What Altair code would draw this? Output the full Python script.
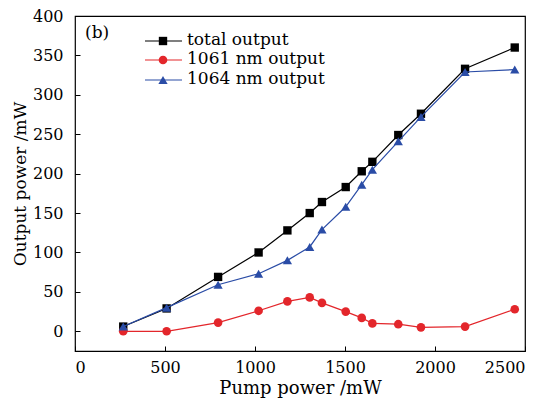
import altair as alt
import pandas as pd

pump = [268, 509, 795, 1020, 1180, 1304, 1372, 1504, 1593, 1652, 1796, 1922, 2167, 2443]
total = [6, 29, 69, 100, 128, 150, 164, 183, 203, 215, 249, 276, 333, 360]
out1061 = [0, 0, 11, 26, 38, 43, 36, 25, 17, 10, 9, 5, 6, 28]
out1064 = [6, 30, 59, 73, 90, 107, 129, 158, 186, 205, 241, 272, 329, 332]

series_names = ["total output", "1061 nm output", "1064 nm output"]
series_colors = ["#000000", "#e3262b", "#2a4ca6"]
series_shapes = ["square", "circle", "triangle-up"]
series_sizes = [70, 75, 85]
x_ticks = [0, 500, 1000, 1500, 2000, 2500]
y_ticks = [0, 50, 100, 150, 200, 250, 300, 350, 400]

FONT = "DejaVu Serif"

rows = []
for name, vals in zip(series_names, [total, out1061, out1064]):
    for p, v in zip(pump, vals):
        rows.append({"pump": p, "power": v, "series": name})
df = pd.DataFrame(rows)

xscale = alt.Scale(domain=[0, 2500], nice=False)
yscale = alt.Scale(domain=[-25, 400], nice=False)

x_enc = alt.X("pump:Q", scale=xscale, axis=alt.Axis(
    title="Pump power /mW", values=x_ticks, format="d", grid=False, domain=False,
    tickSize=5, offset=-5, tickColor="black", labelPadding=8,
    labelFont=FONT, labelFontSize=16, labelColor="black",
    titleFont=FONT, titleFontSize=18, titleFontWeight="normal", titleColor="black",
    titlePadding=4))
y_enc = alt.Y("power:Q", scale=yscale, axis=alt.Axis(
    title="Output power /mW", values=y_ticks, format="d", grid=False, domain=False,
    tickSize=5, offset=-5, tickColor="black", labelPadding=12,
    labelFont=FONT, labelFontSize=16, labelColor="black",
    titleFont=FONT, titleFontSize=17, titleFontWeight="normal", titleColor="black",
    titlePadding=3))

layers = []
for name, col, shp, sz in zip(series_names, series_colors, series_shapes, series_sizes):
    sub = df[df.series == name]
    base = alt.Chart(sub)
    layers.append(base.mark_line(color=col, strokeWidth=1.2).encode(x=x_enc, y=y_enc))
    layers.append(base.mark_point(color=col, filled=True, opacity=1, shape=shp, size=sz).encode(x=x_enc, y=y_enc))

# legend
leg_y = [25, 44, 64]
for name, col, shp, sz, ly in zip(series_names, series_colors, series_shapes, series_sizes, leg_y):
    ldf = pd.DataFrame({"label": [name]})
    lb = alt.Chart(ldf)
    layers.append(lb.mark_rule(color=col, strokeWidth=1.2).encode(
        x=alt.value(70), x2=alt.value(107), y=alt.value(ly)))
    layers.append(lb.mark_point(color=col, filled=True, opacity=1, shape=shp, size=sz).encode(
        x=alt.value(88), y=alt.value(ly)))
    layers.append(lb.mark_text(align="left", baseline="middle", font=FONT, fontSize=17, color="black").encode(
        x=alt.value(112), y=alt.value(ly - 1), text="label:N"))

tag = pd.DataFrame({"t": ["(b)"]})
layers.append(alt.Chart(tag).mark_text(align="left", baseline="middle", font=FONT, fontSize=17, color="black").encode(
    x=alt.value(10), y=alt.value(17), text="t:N"))

chart = alt.layer(*layers).properties(
    width=450, height=335,
    autosize=alt.AutoSizeParams(type="none"),
    padding={"left": 67, "top": 8, "right": 26, "bottom": 47},
).configure_view(stroke="black", strokeWidth=1.2)

chart.save("out.html", embed_options={"renderer": "svg", "actions": False})
